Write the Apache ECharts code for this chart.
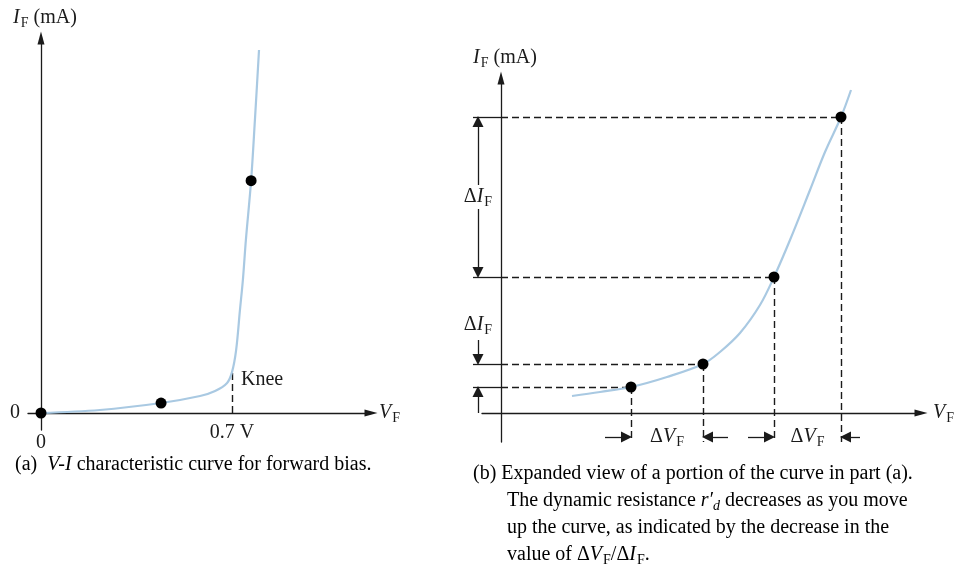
<!DOCTYPE html>
<html>
<head>
<meta charset="utf-8">
<script src="https://cdn.jsdelivr.net/npm/echarts@6/dist/echarts.min.js"></script>
<style>
html,body{margin:0;padding:0;background:#fff;}
#chart{width:980px;height:566px;}
</style>
</head>
<body>
<div id="chart"></div>
<script>
// ---------- Panel (a): V-I characteristic (V in volts, I in mA) ----------
const curveA_V = [0, 0.216, 0.44, 0.583, 0.638, 0.682, 0.70, 0.715, 0.729, 0.74, 0.751, 0.77, 0.784, 0.799];
const curveA_I = [0, 0.33, 1.1, 1.87, 2.42, 3.31, 4.5, 6.9, 11.3, 14.7, 19.1, 25.6, 32.3, 40];
const dotsA_V = [0, 0.44, 0.77];
const dotsA_I = [0, 1.1, 25.6];
const kneeV = 0.7;
const kneeI = 4.5;
const tickA_X = [0, 0.7];
const tickA_XLabels = ['0', '0.7 V'];
const tickA_Y = [0];
const tickA_YLabels = ['0'];

// ---------- Panel (b): expanded view (arbitrary units) ----------
const curveB_V = [0.71, 0.99, 1.30, 1.66, 2.02, 2.19, 2.39, 2.59, 2.73, 2.89, 3.09, 3.24, 3.40, 3.50];
const curveB_I = [0.17, 0.21, 0.26, 0.36, 0.49, 0.61, 0.80, 1.08, 1.36, 1.73, 2.23, 2.61, 2.96, 3.23];
const dotsB_V = [1.30, 2.02, 2.73, 3.40];
const dotsB_I = [0.26, 0.49, 1.36, 2.96];

// ---------- styling ----------
const SERIF = '"Liberation Serif", "DejaVu Serif", serif';
const INK = '#1b1b1b';
const CURVE = '#a9c9e2';
const FS = 20;
const LH = 24;
const subRich = {
  n: {fontFamily: SERIF, fontSize: FS, lineHeight: LH, color: INK},
  i: {fontFamily: SERIF, fontSize: FS, lineHeight: LH, fontStyle: 'italic', color: INK},
  s: {fontFamily: SERIF, fontSize: 14, lineHeight: 14, color: INK, padding: [10, 0, 0, 1]},
  z: {fontFamily: SERIF, fontSize: FS, lineHeight: LH, color: INK, padding: [20, 0, 0, 0]},
  sd: {fontFamily: SERIF, fontSize: 14, lineHeight: 14, fontStyle: 'italic', color: INK, padding: [10, 0, 0, 0]}
};

const axA = {xMin: -0.0476, xMax: 1.2094, yMin: -1.873, yMax: 41.32};
const axB = {xMin: -0.19, xMax: 4.20, yMin: -0.29, yMax: 3.35};

function zip(a, b) { return a.map((v, i) => [v, b[i]]); }

function axisLineCfg() {
  return {show: true, onZero: true, symbol: ['none', 'triangle'], symbolSize: [7, 13],
          lineStyle: {color: INK, width: 1.3}};
}

const dashStyle = {color: INK, width: 1.4, type: [7, 4], opacity: 1};
const solidStyle = {color: INK, width: 1.3, opacity: 1};

// panel (b) annotation geometry in data units (derived from dot arrays)
const yArrowRow = -0.24;           // row of the ΔV arrows below the axis
const xArrowCol = -0.23;           // column of the ΔI arrows left of the axis
const tickLeft = -0.28;            // left end of the short solid ticks
const hDashB = dotsB_V.map((v, i) => ({coords: [[0, dotsB_I[i]], [v, dotsB_I[i]]]}));
const vDashB = dotsB_V.map((v, i) => ({coords: [[v, dotsB_I[i]], [v, axB.yMin]]}));
const ticksB = dotsB_I.map(I => ({coords: [[tickLeft, I], [0, I]]}));
const midTopI = (dotsB_I[2] + dotsB_I[3]) / 2;
const lowLabelI = 0.88;
const arrowsB = [
  // ΔV arrows (pointing inward to the dashed verticals)
  {coords: [[dotsB_V[0] - 0.26, yArrowRow], [dotsB_V[0] - 0.045, yArrowRow]]},
  {coords: [[dotsB_V[1] + 0.25, yArrowRow], [dotsB_V[1] + 0.045, yArrowRow]]},
  {coords: [[dotsB_V[2] - 0.26, yArrowRow], [dotsB_V[2] - 0.045, yArrowRow]]},
  {coords: [[dotsB_V[3] + 0.19, yArrowRow], [dotsB_V[3] + 0.045, yArrowRow]]},
  // upper ΔI (between dots 2 and 3)
  {coords: [[xArrowCol, midTopI + 0.12], [xArrowCol, dotsB_I[3] - 0.045]]},
  {coords: [[xArrowCol, midTopI - 0.12], [xArrowCol, dotsB_I[2] + 0.045]]},
  // lower ΔI (between dots 0 and 1, pointing inward)
  {coords: [[xArrowCol, lowLabelI - 0.15], [xArrowCol, dotsB_I[1] + 0.045]]},
  {coords: [[xArrowCol, 0.0], [xArrowCol, dotsB_I[0] - 0.045]]}
];
const labelsB = [
  {value: [(dotsB_V[0] + dotsB_V[1]) / 2, yArrowRow], t: '{n|Δ}{i|V}{s|F}'},
  {value: [(dotsB_V[2] + dotsB_V[3]) / 2, yArrowRow], t: '{n|Δ}{i|V}{s|F}'},
  {value: [xArrowCol, midTopI], t: '{n|Δ}{i|I}{s|F}'},
  {value: [xArrowCol, lowLabelI], t: '{n|Δ}{i|I}{s|F}'}
];

const chart = echarts.init(document.getElementById('chart'), null, {renderer: 'canvas'});

const option = {
  animation: false,
  backgroundColor: '#ffffff',
  grid: [
    {left: 28, top: 38, width: 343, height: 392, outerBoundsMode: 'none', containLabel: false},
    {left: 482, top: 78, width: 439, height: 364, outerBoundsMode: 'none', containLabel: false}
  ],
  xAxis: [
    {
      type: 'value', gridIndex: 0, min: axA.xMin, max: axA.xMax,
      axisLine: axisLineCfg(), axisTick: {show: false}, splitLine: {show: false},
      axisLabel: {
        show: true, customValues: tickA_X, margin: -9, rich: subRich,
        fontFamily: SERIF, fontSize: FS, color: INK,
        formatter: v => {
          const i = tickA_X.indexOf(v);
          const t = i >= 0 ? tickA_XLabels[i] : '';
          return v === 0 ? '{z|' + t + '}' : '{n|' + t + '}';
        }
      },
      name: '{i|V}{s|F}', nameLocation: 'end', nameGap: 8,
      nameTextStyle: {rich: subRich, align: 'left', verticalAlign: 'middle'}
    },
    {
      type: 'value', gridIndex: 1, min: axB.xMin, max: axB.xMax,
      axisLine: axisLineCfg(), axisTick: {show: false}, splitLine: {show: false},
      axisLabel: {show: false},
      name: '{i|V}{s|F}', nameLocation: 'end', nameGap: 12,
      nameTextStyle: {rich: subRich, align: 'left', verticalAlign: 'middle'}
    }
  ],
  yAxis: [
    {
      type: 'value', gridIndex: 0, min: axA.yMin, max: axA.yMax,
      axisLine: axisLineCfg(), axisTick: {show: false}, splitLine: {show: false},
      axisLabel: {
        show: true, customValues: tickA_Y, margin: 8,
        fontFamily: SERIF, fontSize: FS, color: INK,
        formatter: v => { const i = tickA_Y.indexOf(v); return i >= 0 ? tickA_YLabels[i] : ''; }
      },
      name: '{i|I}{s|F}{n| (mA)}', nameLocation: 'end', nameGap: 8,
      nameTextStyle: {rich: subRich, align: 'center', padding: [0, 0, 0, 8]}
    },
    {
      type: 'value', gridIndex: 1, min: axB.yMin, max: axB.yMax,
      axisLine: axisLineCfg(), axisTick: {show: false}, splitLine: {show: false},
      axisLabel: {show: false},
      name: '{i|I}{s|F}{n| (mA)}', nameLocation: 'end', nameGap: 8,
      nameTextStyle: {rich: subRich, align: 'center', padding: [0, 0, 0, 8]}
    }
  ],
  series: [
    // ----- panel (a) -----
    {
      type: 'line', xAxisIndex: 0, yAxisIndex: 0, data: zip(curveA_V, curveA_I),
      smooth: 0.35, showSymbol: false, lineStyle: {color: CURVE, width: 2.2}, z: 3
    },
    {
      type: 'lines', coordinateSystem: 'cartesian2d', xAxisIndex: 0, yAxisIndex: 0, clip: false,
      data: [{coords: [[kneeV, 0], [kneeV, kneeI]]}], lineStyle: dashStyle, z: 2
    },
    {
      type: 'scatter', xAxisIndex: 0, yAxisIndex: 0, data: [[kneeV, 3.64]], symbolSize: 0, clip: false,
      itemStyle: {opacity: 1},
      label: {show: true, position: 'right', distance: 9, formatter: 'Knee',
              fontFamily: SERIF, fontSize: FS, color: INK}, z: 5
    },
    {
      type: 'scatter', xAxisIndex: 0, yAxisIndex: 0, data: zip(dotsA_V, dotsA_I), clip: false,
      symbolSize: 11, itemStyle: {color: '#000', opacity: 1}, z: 6
    },
    // ----- panel (b) -----
    {
      type: 'line', xAxisIndex: 1, yAxisIndex: 1, data: zip(curveB_V, curveB_I),
      smooth: 0.35, showSymbol: false, lineStyle: {color: CURVE, width: 2.2}, z: 3
    },
    {
      type: 'lines', coordinateSystem: 'cartesian2d', xAxisIndex: 1, yAxisIndex: 1, clip: false,
      data: hDashB.concat(vDashB), lineStyle: dashStyle, z: 2
    },
    {
      type: 'lines', coordinateSystem: 'cartesian2d', xAxisIndex: 1, yAxisIndex: 1, clip: false,
      data: ticksB, lineStyle: solidStyle, z: 2
    },
    {
      type: 'lines', coordinateSystem: 'cartesian2d', xAxisIndex: 1, yAxisIndex: 1, clip: false,
      data: arrowsB, lineStyle: solidStyle, symbol: ['none', 'triangle'], symbolSize: [7, 11], z: 4
    },
    {
      type: 'scatter', xAxisIndex: 1, yAxisIndex: 1, symbolSize: 0, clip: false,
      itemStyle: {opacity: 1},
      data: labelsB.map(d => ({value: d.value, t: d.t})),
      label: {show: true, position: 'inside', rich: subRich,
              formatter: p => p.data.t}, z: 5
    },
    {
      type: 'scatter', xAxisIndex: 1, yAxisIndex: 1, data: zip(dotsB_V, dotsB_I), clip: false,
      symbolSize: 11, itemStyle: {color: '#000', opacity: 1}, z: 6
    }
  ],
  graphic: [
    {type: 'text', left: 15, top: 455,
     style: {text: '{n|(a)  }{i|V-I}{n| characteristic curve for forward bias.}', rich: subRich}},
    {type: 'text', left: 473, top: 464,
     style: {text: '{n|(b) Expanded view of a portion of the curve in part (a).}', rich: subRich}},
    {type: 'text', left: 507, top: 489,
     style: {text: '{n|The dynamic resistance }{i|r′}{sd|d}{n| decreases as you move}', rich: subRich}},
    {type: 'text', left: 507, top: 518,
     style: {text: '{n|up the curve, as indicated by the decrease in the}', rich: subRich}},
    {type: 'text', left: 507, top: 543,
     style: {text: '{n|value of Δ}{i|V}{s|F}{n|/Δ}{i|I}{s|F}{n|.}', rich: subRich}}
  ]
};

chart.setOption(option);
</script>
</body>
</html>
